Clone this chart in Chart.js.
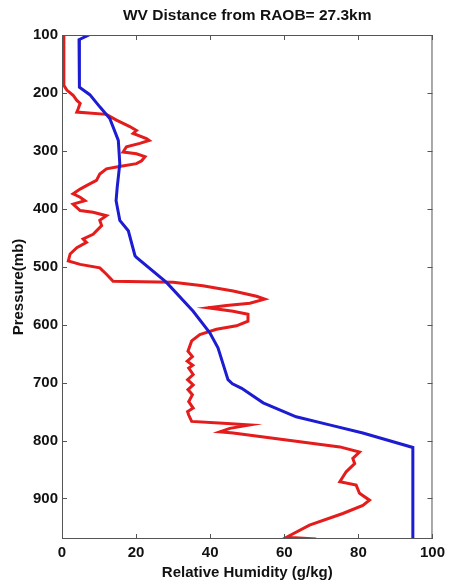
<!DOCTYPE html>
<html><head><meta charset="utf-8">
<script src="https://cdn.jsdelivr.net/npm/chart.js@4/dist/chart.umd.min.js"></script>
<style>html,body{margin:0;padding:0;background:#fff}#wrap{width:450px;height:585px}</style>
</head><body><div id="wrap"><canvas id="c" width="450" height="585"></canvas></div>
<script>
const titleText = "WV Distance from RAOB= 27.3km";
const xTicks = [0, 20, 40, 60, 80, 100];
const yTicks = [100, 200, 300, 400, 500, 600, 700, 800, 900];
const bluePressure = [100,108,188,190,203,224,244,282,322,363,386,420,438,481,484,527,577,614,640,695,702,710,735,759,773,787,812,970];
const blueValue    = [7.3,4.6,4.6,4.8,7.5,10.2,12.9,15.2,15.6,14.9,14.6,15.6,17.9,19.7,20.1,28.2,35.4,39.9,42.1,44.8,46.0,48.5,54.3,63.2,72.2,81.2,94.7,94.7];
const redPressure = [100,187,195,204,213,218,227,233,237,247,258,265,270,279,282,287,293,302,305,310,317,322,328,331,340,351,360,366,374,380,386,392,403,406,412,420,429,444,452,458,467,478,490,496,502,513,525,527,533,542,551,556,563,567,571,577,582,594,602,608,617,628,646,655,663,670,675,686,695,704,712,721,733,744,750,756,767,770,773,779,785,787,802,811,820,831,840,854,871,877,891,903,912,926,946,967,970];
const redValue    = [0.5,0.5,1.3,3.0,4.0,4.9,4.4,4.0,12,14.7,18.3,20.1,19.2,22.8,23.5,21,17.4,16.5,20.1,22.4,21.5,20.1,14.7,12,10.2,9.3,6.6,4.9,3.0,4.9,6.2,3.0,4.9,8.4,12,10.2,10.7,8.4,5.7,6.6,4.0,2.2,1.7,4.9,10.2,12,13.8,30,38,46.2,52.5,54.7,50.7,44.4,39.4,46.2,50.2,50.2,47.1,41.7,37.2,35,34,35.2,33.8,35.3,34.2,35.4,33.9,35.4,34.0,35.2,34.2,35.4,33.9,34.2,35.0,43.5,50.7,45.3,42.6,46.2,64.2,75,80.3,78.5,79,76.7,75,79.4,80.3,83,81.2,75.8,66.8,60.6,68.6];

const FONT = "'Liberation Sans', Arial, sans-serif";
const pts = (xs, ps) => xs.map((v, i) => ({x: v, y: ps[i]}));

const frame = {
  id: 'frame',
  afterDatasetsDraw(chart) {
    const {ctx, chartArea: a, scales: {x, y}} = chart;
    ctx.save();
    ctx.strokeStyle = '#555';
    ctx.lineWidth = 1;
    ctx.strokeRect(a.left + 0.5, a.top + 0.5, a.right - a.left - 1, a.bottom - a.top - 1);
    const L = 5;
    ctx.beginPath();
    xTicks.forEach(v => {
      const px = Math.round(x.getPixelForValue(v)) + 0.5;
      ctx.moveTo(px, a.bottom); ctx.lineTo(px, a.bottom - L);
      ctx.moveTo(px, a.top); ctx.lineTo(px, a.top + L);
    });
    yTicks.forEach(v => {
      const py = Math.round(y.getPixelForValue(v)) + 0.5;
      ctx.moveTo(a.left, py); ctx.lineTo(a.left + L, py);
      ctx.moveTo(a.right, py); ctx.lineTo(a.right - L, py);
    });
    ctx.stroke();
    ctx.fillStyle = '#111';
    ctx.font = 'bold 15.5px ' + FONT;
    ctx.textAlign = 'center';
    ctx.textBaseline = 'middle';
    ctx.fillText(titleText, (a.left + a.right) / 2, 16);
    ctx.restore();
  }
};

new Chart(document.getElementById('c'), {
  type: 'scatter',
  data: {
    datasets: [
      {data: pts(redValue, redPressure), showLine: true, borderColor: 'rgb(228,28,28)', borderWidth: 3, pointRadius: 0, tension: 0, order: 2},
      {data: pts(blueValue, bluePressure), showLine: true, borderColor: 'rgb(28,28,210)', borderWidth: 3, pointRadius: 0, tension: 0, order: 1}
    ]
  },
  options: {
    responsive: false,
    animation: false,
    layout: {padding: {top: 35, right: 17, left: 0, bottom: 0}},
    plugins: {legend: {display: false}, tooltip: {enabled: false}, title: {display: false}},
    scales: {
      x: {
        type: 'linear', min: 0, max: 100,
        afterBuildTicks: s => { s.ticks = xTicks.map(v => ({value: v})); },
        afterFit: s => { s.height = 46; },
        grid: {display: false, drawTicks: false},
        border: {display: false},
        ticks: {color: '#111', font: {family: FONT, size: 15, weight: 'bold'}, padding: 5, maxRotation: 0},
        title: {display: true, text: 'Relative Humidity (g/kg)', color: '#111', font: {family: FONT, size: 15, weight: 'bold'}, padding: {top: 0, bottom: 3}}
      },
      y: {
        type: 'linear', reverse: true, min: 100, max: 970,
        afterBuildTicks: s => { s.ticks = yTicks.map(v => ({value: v})); },
        afterFit: s => { s.width = 62; },
        grid: {display: false, drawTicks: false},
        border: {display: false},
        ticks: {color: '#111', font: {family: FONT, size: 15, weight: 'bold'}, padding: 4},
        title: {display: true, text: 'Pressure(mb)', color: '#111', font: {family: FONT, size: 15, weight: 'bold'}, padding: {top: 10, bottom: 0}}
      }
    }
  },
  plugins: [frame]
});
</script></body></html>
